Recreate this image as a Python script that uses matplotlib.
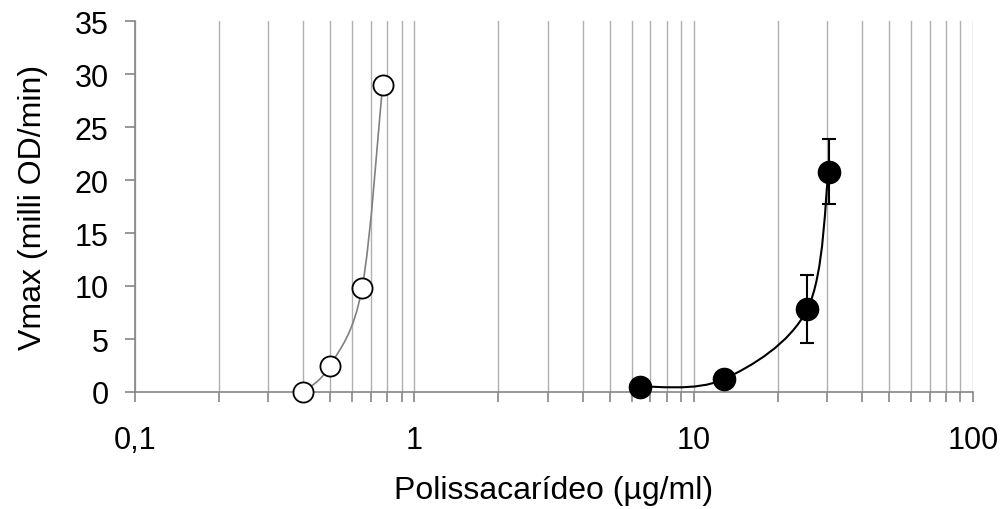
import numpy as np
import matplotlib
matplotlib.use("Agg")
import matplotlib.pyplot as plt
from matplotlib.path import Path
from matplotlib.patches import PathPatch
from matplotlib.ticker import FixedLocator, LogLocator, FuncFormatter, NullFormatter

plt.rcParams['font.family'] = ['Liberation Sans', 'DejaVu Sans']

# Open-circle series
conc_open = [0.40, 0.50, 0.65, 0.77]
vmax_open = [0.0, 2.5, 9.8, 29.0]

# Filled-circle series with error bars
conc_fill = [6.4, 12.8, 25.5, 30.4]
vmax_fill = [0.5, 1.2, 7.8, 20.8]
err_fill = [0.0, 0.0, 3.2, 3.1]

x_ticks = [0.1, 1, 10, 100]
x_tick_labels = ["0,1", "1", "10", "100"]
y_ticks = [0, 5, 10, 15, 20, 25, 30, 35]

fig = plt.figure(figsize=(10.04, 5.10), dpi=100)
ax = fig.add_axes([135 / 1004, 1 - 393 / 510, (973 - 135) / 1004, (393 - 22) / 510])

ax.set_xscale("log")
ax.set_xlim(0.1, 100)
ax.set_ylim(0, 35)

# Pixel scale per decade / per unit, used to shape the smoothed line
SX, SY = 279.0, 10.6


def smooth_path(xs, ys, tension=1 / 6):
    """Smoothed line through the points (cubic Bezier, Catmull-Rom style) in log-x space."""
    px = np.log10(np.asarray(xs)) * SX
    py = np.asarray(ys) * SY
    n = len(px)
    verts = [(xs[0], ys[0])]
    codes = [Path.MOVETO]
    for i in range(n - 1):
        p0 = (px[i - 1], py[i - 1]) if i > 0 else (px[i], py[i])
        p1 = (px[i], py[i])
        p2 = (px[i + 1], py[i + 1])
        p3 = (px[i + 2], py[i + 2]) if i + 2 < n else (px[i + 1], py[i + 1])
        c1 = (p1[0] + (p2[0] - p0[0]) * tension, p1[1] + (p2[1] - p0[1]) * tension)
        c2 = (p2[0] - (p3[0] - p1[0]) * tension, p2[1] - (p3[1] - p1[1]) * tension)
        for c in (c1, c2, p2):
            verts.append((10 ** (c[0] / SX), c[1] / SY))
            codes.append(Path.CURVE4)
    return Path(verts, codes)


ax.add_patch(PathPatch(smooth_path(conc_open, vmax_open), fill=False,
                       edgecolor="#808080", lw=1.2, zorder=3, clip_on=False))
ax.add_patch(PathPatch(smooth_path(conc_fill, vmax_fill), fill=False,
                       edgecolor="black", lw=1.5, zorder=3, clip_on=False))

ax.errorbar(conc_fill, vmax_fill, yerr=err_fill, fmt="none", ecolor="black",
            elinewidth=1.5, capsize=5, capthick=1.5, zorder=4, clip_on=False)

ax.plot(conc_open, vmax_open, "o", ms=14.5, mfc="white", mec="black", mew=1.3,
        zorder=5, clip_on=False)
ax.plot(conc_fill, vmax_fill, "o", ms=16, mfc="black", mec="black",
        zorder=5, clip_on=False)

# Axes styling
ax.xaxis.set_major_locator(FixedLocator(x_ticks))
ax.xaxis.set_major_formatter(FuncFormatter(lambda v, p: x_tick_labels[x_ticks.index(v)] if v in x_ticks else ""))
ax.xaxis.set_minor_locator(LogLocator(base=10, subs=np.arange(2, 10)))
ax.xaxis.set_minor_formatter(NullFormatter())
ax.set_yticks(y_ticks)

ax.grid(True, which="both", axis="x", color="#b0b0b0", lw=1.0)
ax.set_axisbelow(True)

for s in ("top", "right"):
    ax.spines[s].set_visible(False)
for s in ("left", "bottom"):
    ax.spines[s].set_color("#868686")
    ax.spines[s].set_linewidth(1.2)

ax.tick_params(axis="both", which="both", direction="out", color="#868686",
               width=1.2, labelsize=22, labelcolor="black")
ax.tick_params(axis="x", which="both", length=7, pad=17)
ax.tick_params(axis="y", which="major", length=7, pad=12)

ax.set_xlabel("Polissacarídeo (µg/ml)", fontsize=23, labelpad=14)
ax.set_ylabel("Vmax (milli OD/min)", fontsize=23, labelpad=19)

fig.savefig("out.png", dpi=100, facecolor="white")
